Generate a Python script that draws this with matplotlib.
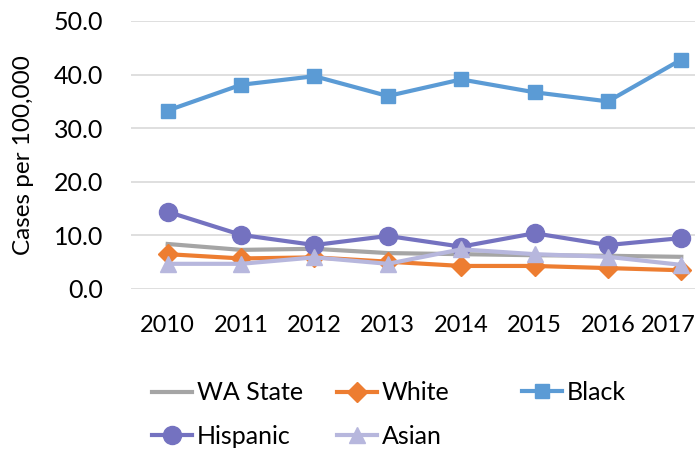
import numpy as np
import matplotlib.pyplot as plt
from matplotlib.transforms import ScaledTranslation

plt.rcParams['font.family'] = ['Lato', 'DejaVu Sans']

# Datos
years = ['2010', '2011', '2012', '2013', '2014', '2015', '2016', '2017']
wa_state = [8.4, 7.3, 7.5, 6.7, 6.5, 6.3, 6.2, 6.0]
white = [6.5, 5.7, 5.9, 5.1, 4.3, 4.3, 3.9, 3.5]
black = [33.3, 38.1, 39.7, 36.0, 39.1, 36.7, 35.0, 42.8]
hispanic = [14.4, 10.1, 8.2, 9.9, 7.9, 10.4, 8.2, 9.5]
asian = [4.7, 4.7, 5.9, 4.7, 7.4, 6.5, 6.0, 4.5]

# Estilo de cada serie: (etiqueta, datos, color, marcador, tamaño)
series = [
    ('WA State', wa_state, '#A5A5A5', None, 0),
    ('White', white, '#ED7D31', 'D', 10),
    ('Black', black, '#5B9BD5', 's', 10.5),
    ('Hispanic', hispanic, '#7472C0', 'o', 13),
    ('Asian', asian, '#B7B7DD', '^', 11.5),
]

fs = 18

fig = plt.figure(figsize=(6.95, 4.53), dpi=100)
ax = fig.add_axes([131 / 695, 1 - 289 / 453, 587 / 695, 268 / 453])

x = np.arange(len(years))
handles = {}
for label, vals, color, marker, ms in series:
    line, = ax.plot(x, vals, color=color, lw=3, marker=marker, markersize=ms,
                    label=label, solid_joinstyle='round')
    handles[label] = line

ax.set_xlim(-0.5, len(years) - 0.5)
ax.set_ylim(0, 50)
ax.set_yticks(np.arange(0, 51, 10))
ax.set_yticklabels([f'{v:.1f}' for v in np.arange(0, 51, 10)])
ax.set_xticks(x)
ax.set_xticklabels(years)
ax.tick_params(axis='both', length=0)
ax.tick_params(axis='x', pad=19, labelsize=17)
ax.tick_params(axis='y', pad=20, labelsize=fs)
ax.grid(axis='y', color='#D9D9D9', lw=1.2)
ax.set_axisbelow(True)
for s in ax.spines.values():
    s.set_visible(False)
ax.set_ylabel('Cases per 100,000', fontsize=17.5, labelpad=14)

# Como en Excel, la última etiqueta se corre para caber en el borde
last = ax.xaxis.get_major_ticks()[-1].label1
last.set_horizontalalignment('right')
last.set_transform(last.get_transform() + ScaledTranslation(0.14, 0, fig.dpi_scale_trans))

# Leyenda en tres columnas separadas
cols = [(['WA State', 'Hispanic'], 152, 414.5), (['White', 'Asian'], 337, 414.5),
        (['Black'], 522, 392)]
for labels, px, py in cols:
    fig.legend([handles[l] for l in labels], labels, loc='center left',
               bbox_to_anchor=(px / 695, 1 - py / 453), frameon=False,
               fontsize=fs, handlelength=1.6, handletextpad=0.2,
               labelspacing=0.8, borderpad=0, borderaxespad=0)

fig.savefig('out.png', dpi=100)
